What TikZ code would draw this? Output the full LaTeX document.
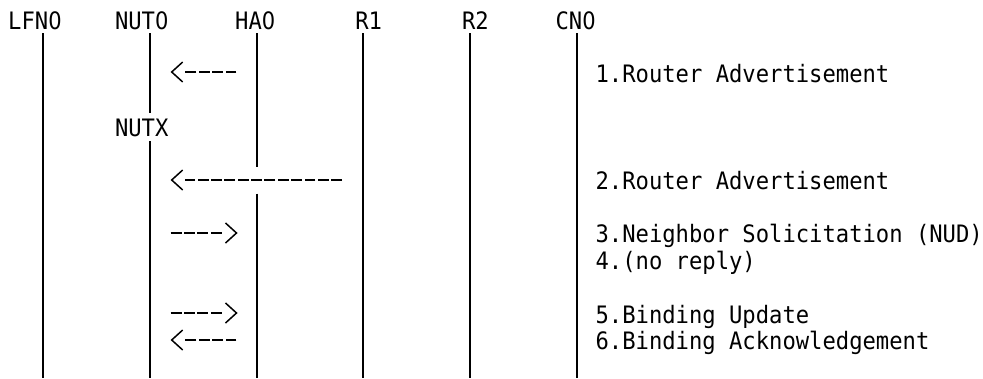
\documentclass[tikz,border=0pt]{standalone}
\usepackage{fontspec}
\newfontfamily\diagfont[FakeStretch=0.924]{DejaVu Sans Mono}
\newfontfamily\zerofont[FakeStretch=0.875]{DejaVu Sans}
\newcommand{\zr}{{\zerofont 0}}
\usetikzlibrary{decorations.markings}
\tikzset{
  lbl/.style={font=\diagfont\fontsize{24pt}{27pt}\selectfont, inner sep=0pt, anchor=base west},
  life/.style={line width=2pt},
  msg/.style={line width=1.6pt, dash pattern=on 10.8pt off 2.55pt,
    postaction={decorate},
    decoration={markings, mark=at position 1 with {\draw[solid, line width=1.5pt, line join=miter] (2pt,10pt) -- (13pt,0pt) -- (2pt,-10pt);}}}
}
\begin{document}
\begin{tikzpicture}[x=1pt,y=-1pt]
\fill[white] (0,0) rectangle (983,378);
\useasboundingbox (0,0) rectangle (983,378);
% header
\node[lbl] (lfn0) at (8,29) {LFN\zr};
\node[lbl] (nut0) at (114.8,29) {NUT\zr};
\node[lbl] (ha0) at (235.0,29) {HA\zr};
\node[lbl] (r1) at (355.1,29) {R1};
\node[lbl] (r2) at (461.9,29) {R2};
\node[lbl] (cn0) at (555.4,29) {CN\zr};
\node[lbl] (nutx) at (114.8,136) {NUTX};
% lifeline coordinates
\coordinate (lfnT) at (43,33);   \coordinate (lfnB) at (43,378);
\coordinate (nutT) at (150,33); \coordinate (nutM1) at (150,113);
\coordinate (nutM2) at (150,141); \coordinate (nutB) at (150,378);
\coordinate (haT) at (257,33); \coordinate (haM1) at (257,166.75);
\coordinate (haM2) at (257,193.5); \coordinate (haB) at (257,378);
\coordinate (r1T) at (363,33); \coordinate (r1B) at (363,378);
\coordinate (r2T) at (470,33); \coordinate (r2B) at (470,378);
\coordinate (cnT) at (577,33);   \coordinate (cnB) at (577,378);
\draw[life] (lfnT) -- (lfnB);
\draw[life] (nutT) -- (nutM1);
\draw[life] (nutM2) -- (nutB);
\draw[life] (haT) -- (haM1);
\draw[life] (haM2) -- (haB);
\draw[life] (r1T) -- (r1B);
\draw[life] (r2T) -- (r2B);
\draw[life] (cnT) -- (cnB);
% messages
\coordinate (m1t) at (236.3,72);  \coordinate (m1h) at (184.7,72);
\coordinate (m2t) at (342,180);   \coordinate (m2h) at (184.7,180);
\coordinate (m3t) at (170.7,233); \coordinate (m3h) at (223.5,233);
\coordinate (m5t) at (170.7,313); \coordinate (m5h) at (223.5,313);
\coordinate (m6t) at (236.3,340); \coordinate (m6h) at (184.7,340);
\draw[msg] (m1t) -- (m1h);
\draw[msg] (m2t) -- (m2h);
\draw[msg] (m3t) -- (m3h);
\draw[msg] (m5t) -- (m5h);
\draw[msg] (m6t) -- (m6h);
% labels
\node[lbl] (t1) at (595.4,82.25) {1.Router Advertisement};
\node[lbl] (t2) at (595.4,189.25) {2.Router Advertisement};
\node[lbl] (t3) at (595.4,242.75) {3.Neighbor Solicitation (NUD)};
\node[lbl] (t4) at (595.4,269.5) {4.(no reply)};
\node[lbl] (t5) at (595.4,323) {5.Binding Update};
\node[lbl] (t6) at (595.4,349.75) {6.Binding Acknowledgement};
\end{tikzpicture}
\end{document}
